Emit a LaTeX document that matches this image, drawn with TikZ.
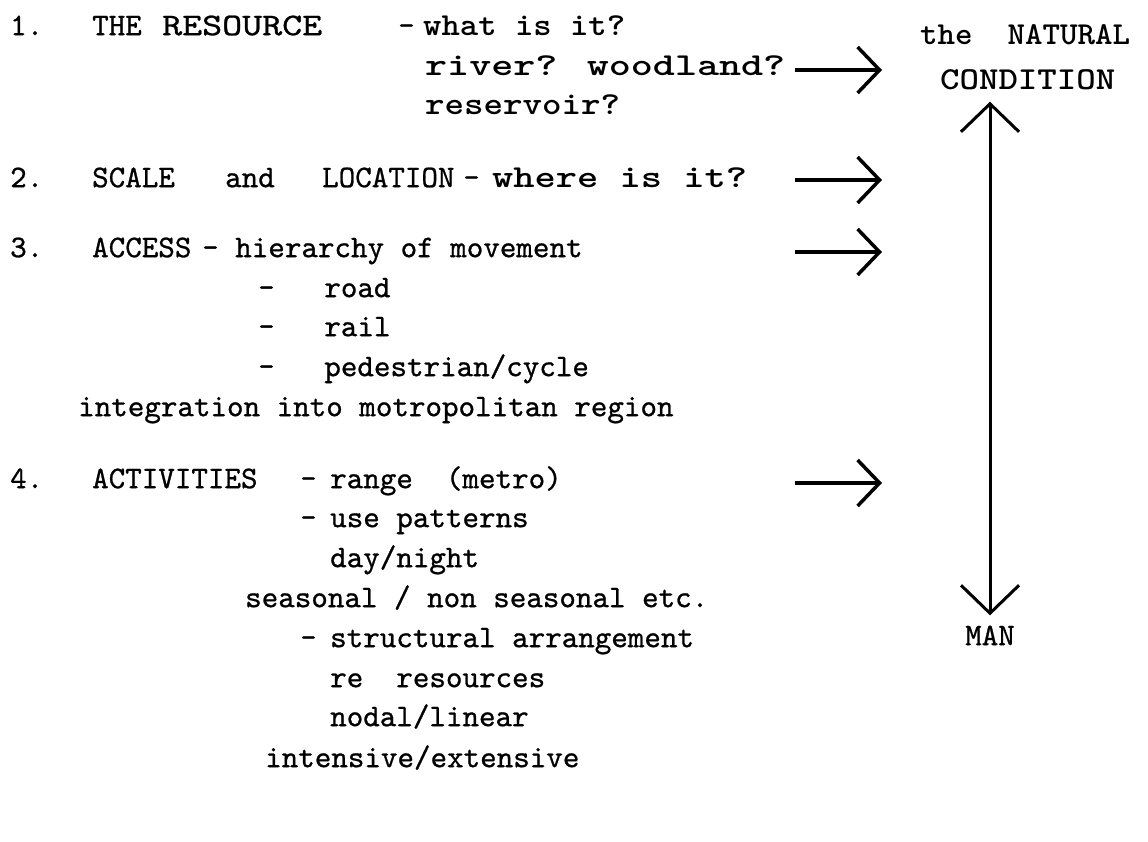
\documentclass[tikz,border=0pt]{standalone}
\usepackage{fontspec}
\usepackage{graphicx}
\usetikzlibrary{arrows.meta}
\newfontfamily\twfont{lmmono10-regular.otf}[FakeBold=0.8]
\newfontfamily\tbfont{lmmonolt10-bold.otf}
\newcommand{\fitw}[2]{\resizebox{#1pt}{\height}{#2}}
\begin{document}
\begin{tikzpicture}[x=1pt,y=-1pt,
  txt/.style={anchor=mid west, inner sep=0pt, font=\fontsize{31.5}{34}\selectfont\twfont},
  btxt/.style={anchor=mid west, inner sep=0pt, font=\fontsize{32}{36}\selectfont\tbfont},
  harrow/.style={line width=3.5pt, -{Straight Barb[length=22pt,width=46pt]}},
  varrow/.style={line width=3pt, {Straight Barb[length=28pt,width=58pt]}-{Straight Barb[length=28pt,width=58pt]}}]
\useasboundingbox (0,0) rectangle (1148,841);
% section 1
\node[txt] (n1) at (10,33) {1.};
\node[txt] (the) at (92,33) {THE};
\node[txt] (res) at (162,33) {\fitw{160}{RESOURCE}};
\node[txt] (d1) at (398,33) {-};
\node[btxt] (what) at (423,33) {\fitw{202}{what is it?}};
\node[btxt] (river) at (425,73) {\fitw{360}{river? woodland?}};
\node[btxt] (reserv) at (425,112) {\fitw{195}{reservoir?}};
% section 2
\node[txt] (n2) at (10,185) {2.};
\node[txt] (scale) at (92,185) {SCALE};
\node[txt] (and) at (225,185) {and};
\node[txt] (loc) at (322,185) {LOCATION};
\node[txt] (d2) at (463,185) {-};
\node[btxt] (where) at (492,185) {\fitw{255}{where is it?}};
% section 3
\node[txt] (n3) at (10,255) {3.};
\node[txt] (access) at (92,255) {ACCESS};
\node[txt] (hier) at (202,255) {-~hierarchy of movement};
\node[txt] (road) at (258,295) {-~~~road};
\node[txt] (rail) at (258,334) {-~~~rail};
\node[txt] (ped) at (258,374) {-~~~pedestrian/cycle};
\node[txt] (integ) at (78,414) {integration into motropolitan region};
% section 4
\node[txt] (n4) at (10,486) {4.};
\node[txt] (act) at (92,486) {ACTIVITIES};
\node[txt] (d4) at (300,486) {-};
\node[txt] (range) at (330,486) {range~~(metro)};
\node[txt] (d4a) at (300,525) {-};
\node[txt] (use) at (330,525) {use patterns};
\node[txt] (day) at (330,565) {day/night};
\node[txt] (seas) at (245,605) {seasonal / non seasonal etc.};
\node[txt] (d4b) at (300,645) {-};
\node[txt] (struct) at (330,645) {structural arrangement};
\node[txt] (reres) at (330,685) {re~~resources};
\node[txt] (nodal) at (330,724) {nodal/linear};
\node[txt] (inten) at (265,765) {intensive/extensive};
% right column
\node[btxt] (natural) at (920,42) {\fitw{210}{the~~NATURAL}};
\node[btxt] (cond) at (940,87) {\fitw{175}{CONDITION}};
\node[txt, anchor=mid] (man) at (990,643) {MAN};
\draw[varrow, shorten <=12pt, shorten >=10pt] (cond.south -| man.north) -- (man.north);
% horizontal arrows
\coordinate (a1s) at (795,70);  \coordinate (a1e) at (882,70);
\coordinate (a2s) at (795,180); \coordinate (a2e) at (882,180);
\coordinate (a3s) at (795,252); \coordinate (a3e) at (882,252);
\coordinate (a4s) at (795,483); \coordinate (a4e) at (882,483);
\draw[harrow] (a1s) -- (a1e);
\draw[harrow] (a2s) -- (a2e);
\draw[harrow] (a3s) -- (a3e);
\draw[harrow] (a4s) -- (a4e);
\end{tikzpicture}
\end{document}
